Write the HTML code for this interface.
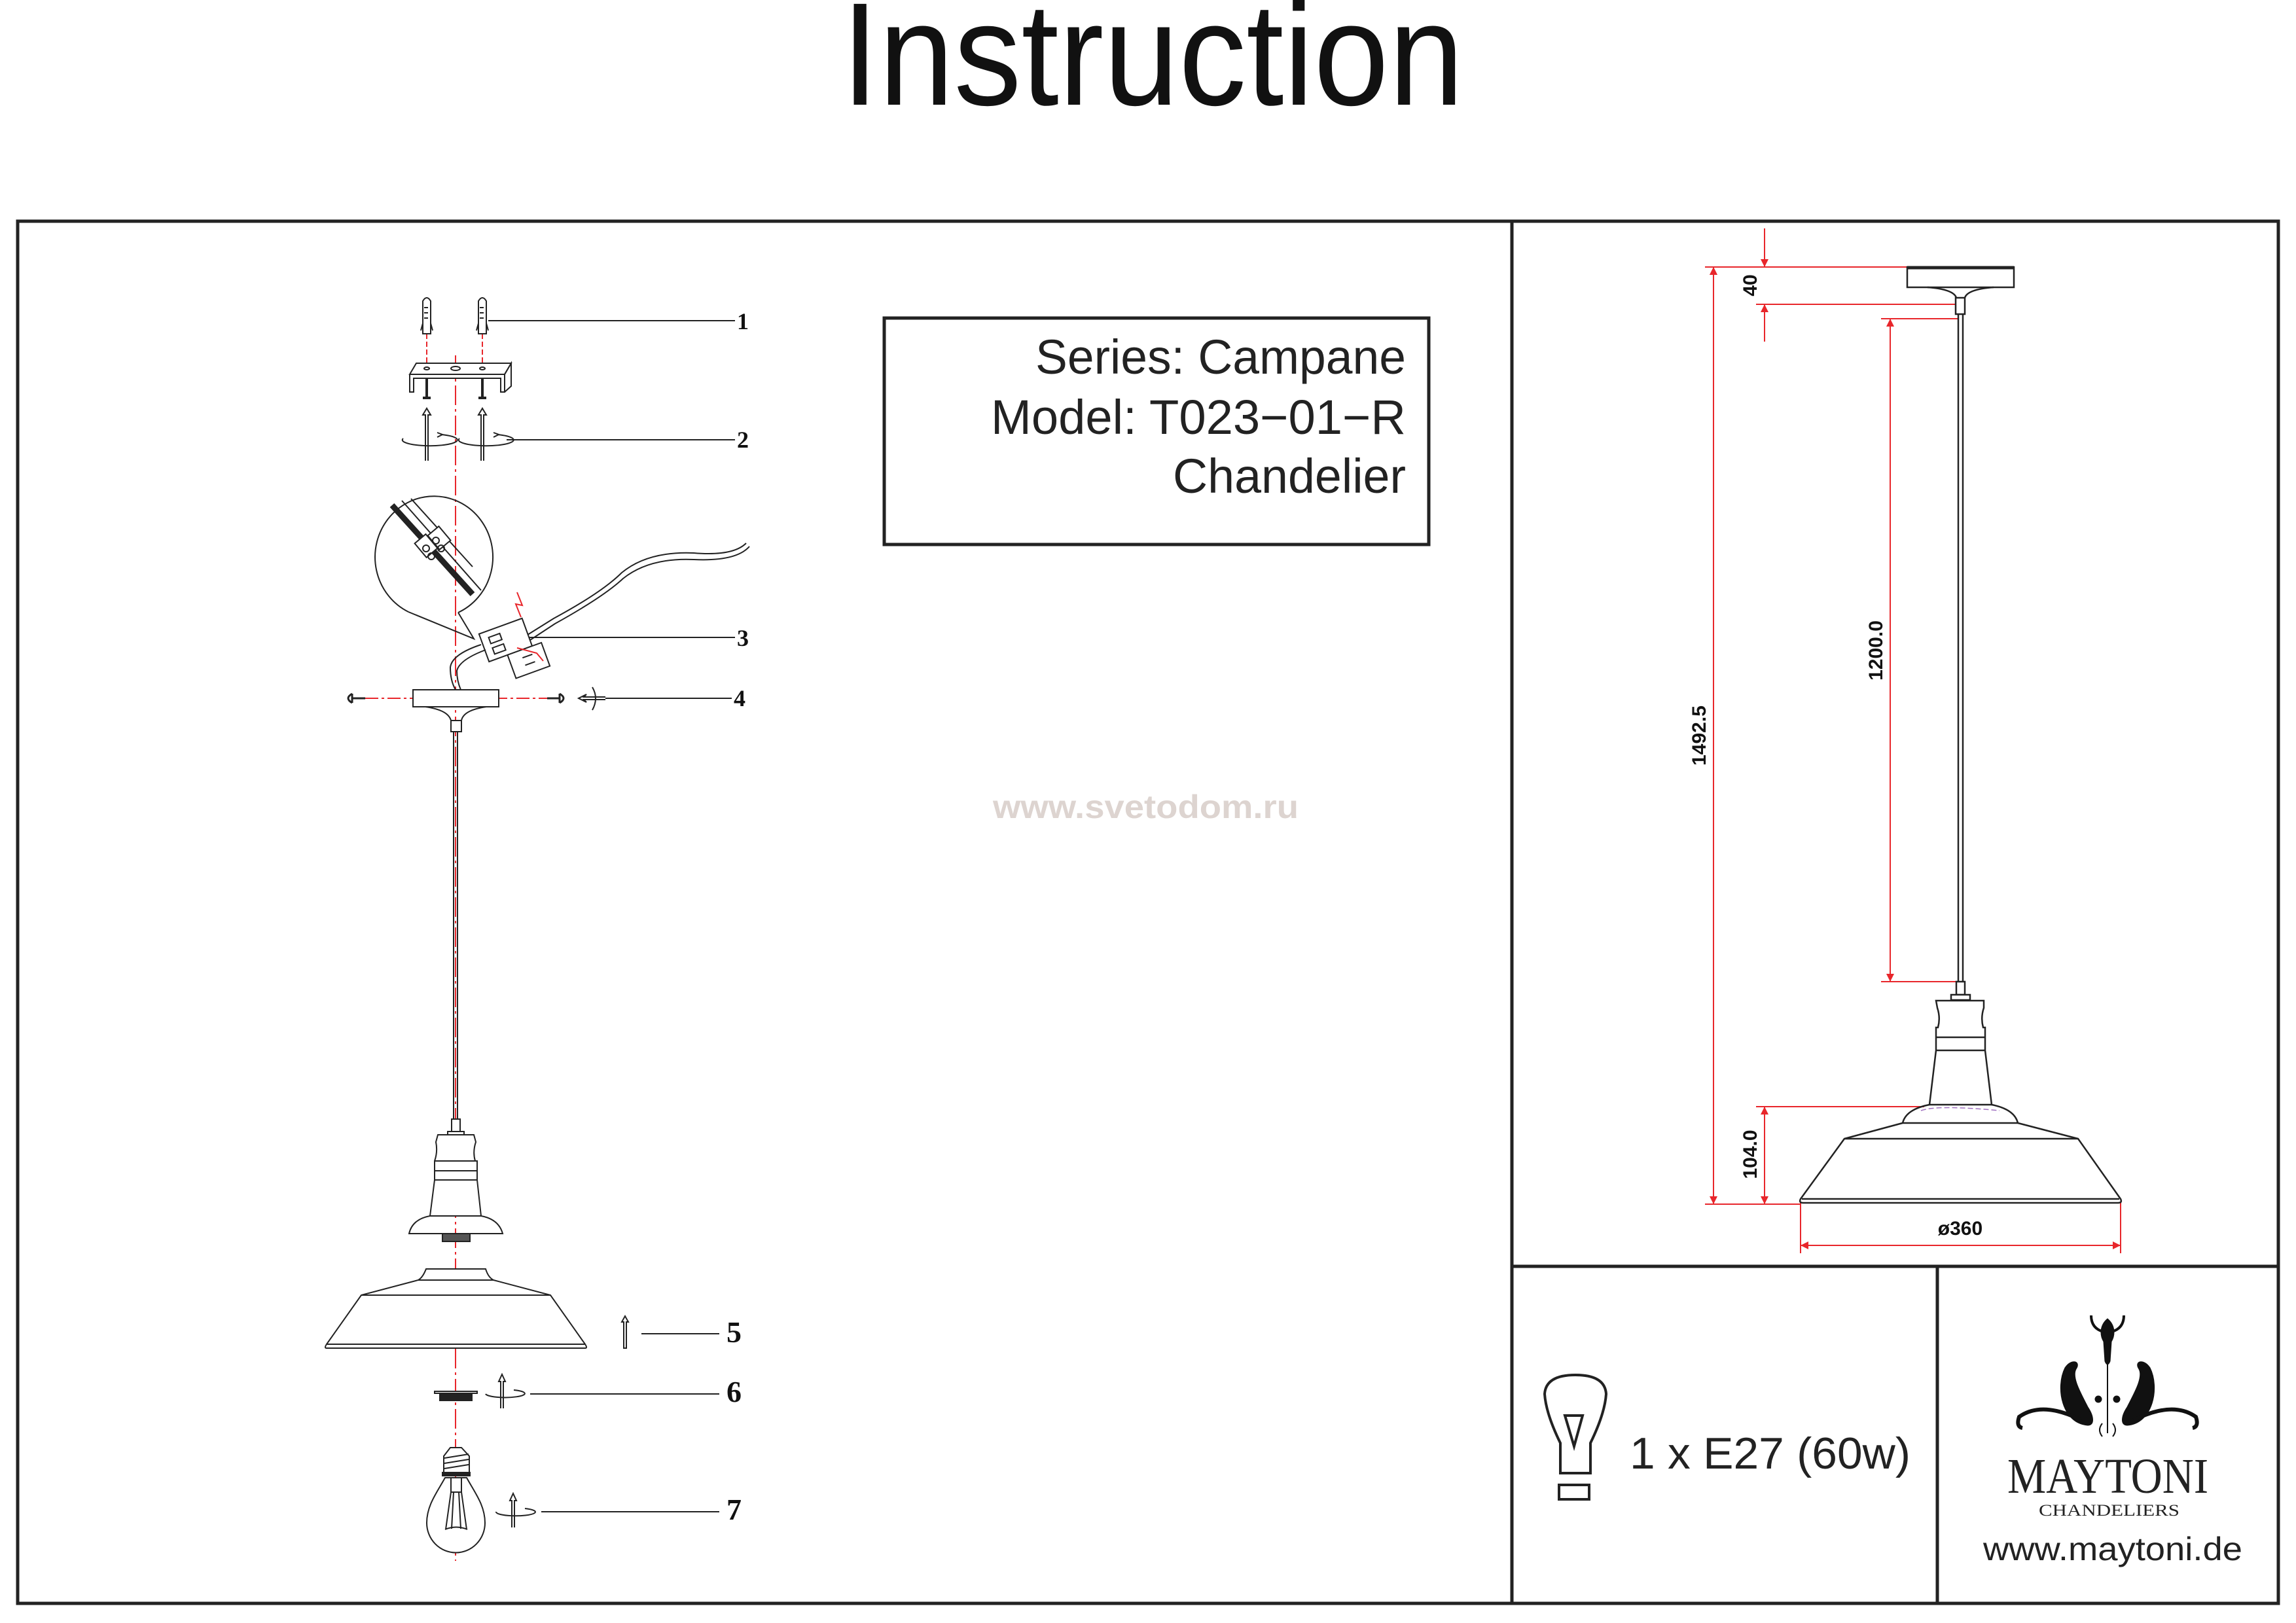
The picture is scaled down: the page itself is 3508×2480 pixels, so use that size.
<!DOCTYPE html>
<html><head><meta charset="utf-8"><style>
html,body{margin:0;padding:0;background:#fff;}
svg{display:block;}
</style></head><body>
<svg width="3508" height="2480" viewBox="0 0 3508 2480" xmlns="http://www.w3.org/2000/svg">
<defs>
<marker id="ra" viewBox="0 0 10 10" refX="10" refY="5" markerWidth="12" markerHeight="30" markerUnits="userSpaceOnUse" orient="auto"><path d="M0,0 L10,5 L0,10 Z" fill="#e8262b"/></marker>
</defs>
<rect width="3508" height="2480" fill="#fff"/>
<!-- Title -->
<text x="1761" y="160" font-family="Liberation Sans, sans-serif" font-size="224" textLength="951" lengthAdjust="spacingAndGlyphs" text-anchor="middle" fill="#111">Instruction</text>

<!-- Frame -->
<g fill="none" stroke="#222" stroke-width="5">
<rect x="27" y="338" width="3454" height="2112"/>
<line x1="2310" y1="338" x2="2310" y2="2450"/>
<line x1="2310" y1="1935" x2="3481" y2="1935"/>
<line x1="2960" y1="1935" x2="2960" y2="2450"/>
</g>

<!-- Series box -->
<rect x="1351" y="486" width="832" height="346" fill="none" stroke="#222" stroke-width="5"/>
<g font-family="Liberation Sans, sans-serif" font-size="74" fill="#222" text-anchor="end">
<text x="2148" y="571" textLength="566" lengthAdjust="spacingAndGlyphs">Series: Campane</text>
<text x="2148" y="663" textLength="634" lengthAdjust="spacingAndGlyphs">Model: T023−01−R</text>
<text x="2148" y="753" textLength="356" lengthAdjust="spacingAndGlyphs">Chandelier</text>
</g>

<!-- watermark -->
<text x="1517" y="1250" font-family="Liberation Sans, sans-serif" font-weight="bold" font-size="50" fill="#ddd4d0" textLength="467" lengthAdjust="spacingAndGlyphs">www.svetodom.ru</text>

<!-- ===== Left assembly drawing ===== -->
<g stroke="#e8262b" stroke-width="2" fill="none">
<line x1="696" y1="543" x2="696" y2="2385" stroke-dasharray="30,6,4,6"/>
<line x1="652" y1="510" x2="652" y2="560" stroke-dasharray="8,4"/>
<line x1="737" y1="510" x2="737" y2="560" stroke-dasharray="8,4"/>
<line x1="558" y1="1067" x2="640" y2="1067" stroke-dasharray="20,5,4,5"/>
<line x1="755" y1="1067" x2="836" y2="1067" stroke-dasharray="20,5,4,5"/>
</g>
<g stroke="#222" stroke-width="2" fill="none">
<!-- anchors -->
<path d="M646,510 L646,460 Q652,450 658,460 L658,510 Z" fill="#fff"/>
<path d="M643,505 L646,494 M661,505 L658,494"/>
<path d="M648,470 h6 M648,478 h6 M648,486 h6"/>
<path d="M731,510 L731,460 Q737,450 743,460 L743,510 Z" fill="#fff"/>
<path d="M728,505 L731,494 M746,505 L743,494"/>
<path d="M733,470 h6 M733,478 h6 M733,486 h6"/>
<!-- bracket -->
<path d="M626,572 L636,555 L781,555 L771,572 Z" fill="#fff"/>
<path d="M626,572 L626,599 L632,599 L632,578 L765,578 L765,599 L771,599 L771,572"/>
<path d="M771,572 L781,555 L781,590 L771,599"/>
<ellipse cx="652" cy="563" rx="4" ry="2"/><ellipse cx="737" cy="563" rx="4" ry="2"/><ellipse cx="696" cy="563" rx="7" ry="3"/>
<!-- screws -->
<path d="M652,577 L652,606 M646,608 L658,608" stroke-width="4"/>
<path d="M737,577 L737,606 M731,608 L743,608" stroke-width="4"/>
<!-- arrows 2 -->
<path d="M650,704 L650,634 L646,634 L652,624 L658,634 L654,634 L654,704"/>
<path d="M735,704 L735,634 L731,634 L737,624 L743,634 L739,634 L739,704"/>
<path d="M674,664 A42,9 0 1 1 616,670"/>
<path d="M760,664 A42,9 0 1 1 702,670"/>
<path d="M668,661 l8,3 l-8,4 M754,661 l8,3 l-8,4"/>
<!-- label lines -->
<line x1="746" y1="490" x2="1123" y2="490"/>
<line x1="774" y1="672" x2="1123" y2="672"/>
<line x1="783" y1="974" x2="1123" y2="974"/>
<line x1="925" y1="1067" x2="1118" y2="1067"/>
<!-- detail circle -->
<path d="M700,936 A90,93 0 1 0 624,935"/>
<path d="M624,935 L724,976 L700,936"/>
<path d="M599,772 L722,908" stroke-width="9"/>
<path d="M614,765 L735,902"/>
<path d="M628,762 L722,866"/>
<rect x="640" y="820" width="22" height="28" transform="rotate(-40 651 834)" fill="#fff"/>
<rect x="660" y="808" width="22" height="28" transform="rotate(-40 671 822)" fill="#fff"/>
<circle cx="651" cy="838" r="5"/><circle cx="666" cy="826" r="5"/><circle cx="659" cy="850" r="5"/><circle cx="674" cy="838" r="5"/>
<!-- terminal -->
<g transform="rotate(-20 775 985)">
<rect x="740" y="955" width="70" height="45" fill="#fff"/>
<rect x="752" y="965" width="18" height="10"/><rect x="752" y="982" width="18" height="10"/>
<rect x="770" y="1000" width="55" height="38" fill="#fff"/>
<path d="M790,1012 h16 M790,1024 h16"/>
</g>
<path d="M806,970 L846,945 Q920,905 950,875 Q990,842 1060,845 Q1120,850 1140,830" />
<path d="M810,978 L848,953 Q922,912 952,884 Q992,852 1060,855 Q1125,858 1145,835" />
<path d="M735,985 Q690,1000 688,1020 Q688,1040 696,1054"/>
<path d="M742,993 Q702,1008 698,1025 Q698,1040 704,1054"/>
<path d="M790,905 l8,20 l-10,-2 l8,20" stroke="#e8262b"/>
<path d="M790,990 l30,8 l10,12" stroke="#e8262b"/>
<!-- canopy -->
<rect x="631" y="1054" width="131" height="26" fill="#fff"/>
<path d="M650,1080 Q685,1085 689,1101 M743,1080 Q708,1085 705,1101"/>
<rect x="689" y="1101" width="16" height="17" fill="#fff"/>
<!-- screws 4 -->
<path d="M538,1060 v14 M538,1067 h20 M538,1060 Q526,1067 538,1074" stroke-width="3"/>
<path d="M855,1060 v14 M855,1067 h-19 M855,1060 Q867,1067 855,1074" stroke-width="3"/>
<path d="M925,1065 L892,1065 L896,1061 L884,1067 L896,1073 L892,1069 L925,1069"/>
<path d="M905,1050 Q915,1067 905,1085"/>
<!-- cord -->
<line x1="693" y1="1118" x2="693" y2="1710"/><line x1="699" y1="1118" x2="699" y2="1710"/>
<!-- holder -->
<rect x="690" y="1710" width="13" height="19" fill="#fff"/>
<rect x="684" y="1729" width="25" height="5" fill="#fff"/>
<path d="M669,1734 L724,1734 L727,1745 Q722,1760 726,1774 L729,1774 L729,1803 L735,1858 L657,1858 L664,1803 L664,1774 Q669,1760 666,1745 Z" fill="#fff"/>
<path d="M664,1774 H729 M664,1789 H729 M664,1803 H729"/>
<path d="M657,1858 Q630,1863 625,1885 L768,1885 Q762,1863 735,1858"/>
<rect x="676" y="1885" width="42" height="12" fill="#555"/>
<!-- shade -->
<path d="M651,1939 L742,1939 Q746,1952 754,1956 L841,1979 L894,2054 Q898,2060 894,2060 L499,2060 Q495,2060 499,2054 L552,1979 L639,1956 Q646,1952 651,1939 Z" fill="#fff"/>
<path d="M639,1956 H754 M552,1979 H841 M499,2054 H894"/>
<!-- 5 -->
<path d="M953,2060 L953,2020 L950,2020 L955,2011 L960,2020 L957,2020 L957,2060 Z"/>
<line x1="980" y1="2038" x2="1099" y2="2038"/>
<!-- 6 -->
<rect x="664" y="2126" width="65" height="3" fill="#fff"/>
<rect x="672" y="2129" width="49" height="11" fill="#222"/>
<path d="M765,2152 L765,2111 L762,2111 L767,2100 L772,2111 L769,2111 L769,2152"/>
<path d="M785,2124 A30,6 0 1 1 742,2130"/>
<line x1="810" y1="2130" x2="1099" y2="2130"/>
<!-- 7 bulb -->
<path d="M688,2212 L705,2212 L717,2225 L717,2250 L678,2250 L678,2225 Z" fill="#fff"/>
<path d="M679,2228 L716,2222 M679,2236 L716,2230 M679,2244 L716,2238"/>
<rect x="676" y="2250" width="42" height="5" fill="#222"/>
<path d="M680,2258 C668,2280 652,2300 652,2327 A44,45 0 0 0 741,2327 C741,2300 725,2280 713,2258 Z" fill="#fff"/>
<path d="M689,2258 L689,2280 L705,2280 L705,2258 M689,2280 L681,2337 M705,2280 L713,2337 M693,2280 L690,2336 M701,2280 L704,2336 M680,2337 Q697,2330 714,2337"/>
<path d="M782,2334 L782,2293 L779,2293 L784,2282 L789,2293 L786,2293 L786,2334"/>
<path d="M802,2305 A30,6 0 1 1 758,2310"/>
<line x1="827" y1="2310" x2="1099" y2="2310"/>
</g>
<g font-family="Liberation Serif, serif" font-weight="bold" fill="#111">
<text x="1126" y="503" font-size="36">1</text>
<text x="1126" y="684" font-size="36">2</text>
<text x="1126" y="987" font-size="36">3</text>
<text x="1121" y="1079" font-size="36">4</text>
<text x="1110" y="2051" font-size="46">5</text>
<text x="1110" y="2142" font-size="46">6</text>
<text x="1110" y="2322" font-size="46">7</text>
</g>

<!-- ===== Right dimension drawing ===== -->
<g stroke="#e8262b" stroke-width="2" fill="none">
<line x1="2605" y1="408" x2="2914" y2="408"/>
<line x1="2605" y1="1840" x2="2751" y2="1840"/>
<line x1="2683" y1="465" x2="2990" y2="465"/>
<line x1="2874" y1="487" x2="2992" y2="487"/>
<line x1="2874" y1="1500" x2="2990" y2="1500"/>
<line x1="2683" y1="1691" x2="2940" y2="1691"/>
<line x1="2751" y1="1836" x2="2751" y2="1915"/>
<line x1="3240" y1="1836" x2="3240" y2="1915"/>
<line x1="2618" y1="440" x2="2618" y2="408" marker-end="url(#ra)"/>
<line x1="2618" y1="430" x2="2618" y2="1840" marker-end="url(#ra)"/>
<line x1="2618" y1="1800" x2="2618" y2="408" marker-end="url(#ra)"/>
<line x1="2696" y1="349" x2="2696" y2="408" marker-end="url(#ra)"/>
<line x1="2696" y1="522" x2="2696" y2="465" marker-end="url(#ra)"/>
<line x1="2888" y1="1490" x2="2888" y2="487" marker-end="url(#ra)"/>
<line x1="2888" y1="500" x2="2888" y2="1500" marker-end="url(#ra)"/>
<line x1="2696" y1="1830" x2="2696" y2="1691" marker-end="url(#ra)"/>
<line x1="2696" y1="1700" x2="2696" y2="1840" marker-end="url(#ra)"/>
<line x1="3230" y1="1903" x2="2751" y2="1903" marker-end="url(#ra)"/>
<line x1="2760" y1="1903" x2="3240" y2="1903" marker-end="url(#ra)"/>
</g>
<g stroke="#222" stroke-width="2.5" fill="none">
<rect x="2914" y="408" width="163" height="31" fill="#fff"/>
<line x1="2914" y1="409" x2="3077" y2="409" stroke-width="5"/>
<path d="M2945,439 Q2985,442 2989,455 M3046,439 Q3006,442 3002,455"/>
<rect x="2988" y="455" width="14" height="25" fill="#fff"/>
<line x1="2992" y1="480" x2="2992" y2="1500"/><line x1="2999" y1="480" x2="2999" y2="1500"/>
<rect x="2989" y="1500" width="13" height="20" fill="#fff"/>
<rect x="2981" y="1520" width="29" height="8" fill="#fff"/>
<path d="M2958,1529 L3031,1529 L3031,1540 Q3026,1555 3030,1570 L3033,1570 L3033,1605 L3043,1688 L2948,1688 L2958,1605 L2958,1570 L2961,1570 Q2965,1555 2960,1540 Z" fill="#fff"/>
<path d="M2958,1585 H3033 M2958,1605 H3033"/>
<path d="M2948,1688 Q2912,1695 2907,1716 L3083,1716 Q3078,1695 3043,1688"/>
<path d="M2907,1716 L2818,1740 L2751,1832 Q2748,1838 2755,1838 L3236,1838 Q3243,1838 3240,1832 L3175,1740 L3083,1716"/>
<path d="M2818,1740 H3175 M2753,1832 H3238"/>
</g>
<path d="M2935,1697 Q2960,1688 3055,1697" stroke="#a070c0" stroke-width="1.5" fill="none" stroke-dasharray="8,4"/>
<g font-family="Liberation Sans, sans-serif" font-weight="bold" font-size="30" fill="#111">
<text transform="translate(2606,1124) rotate(-90)" text-anchor="middle">1492.5</text>
<text transform="translate(2876,994) rotate(-90)" text-anchor="middle">1200.0</text>
<text transform="translate(2684,436) rotate(-90)" text-anchor="middle">40</text>
<text transform="translate(2684,1764) rotate(-90)" text-anchor="middle">104.0</text>
<text x="2995" y="1887" text-anchor="middle">ø360</text>
</g>

<!-- ===== Bottom panels ===== -->
<g stroke="#222" stroke-width="4" fill="none">
<path d="M2384,2251 L2384,2205 Q2362,2160 2360,2130 Q2362,2101 2407,2101 Q2452,2101 2454,2130 Q2452,2160 2430,2205 L2430,2251 Z"/>
<path d="M2391,2163 L2418,2163 L2405,2210 Z"/>
<rect x="2382" y="2269" width="46" height="22"/>
</g>
<text x="2490" y="2244" font-family="Liberation Sans, sans-serif" font-size="68" fill="#222" textLength="429" lengthAdjust="spacingAndGlyphs">1 x E27 (60w)</text>

<!-- logo ornament -->
<g fill="#111" stroke="#111">
<line x1="3220" y1="2060" x2="3220" y2="2190" stroke-width="2"/>
<path d="M3220,2015 C3232,2025 3232,2040 3226,2050 L3224,2080 Q3220,2090 3216,2080 L3214,2050 C3208,2040 3208,2025 3220,2015 Z"/>
<path d="M3214,2035 Q3195,2030 3195,2010 M3226,2035 Q3245,2030 3245,2010" fill="none" stroke-width="4"/>
<path d="M3190,2178 C3150,2175 3140,2120 3155,2090 C3165,2075 3180,2080 3172,2092 C3165,2105 3180,2130 3190,2150 C3200,2165 3200,2178 3190,2178 Z"/>
<path d="M3250,2178 C3290,2175 3300,2120 3285,2090 C3275,2075 3260,2080 3268,2092 C3275,2105 3260,2130 3250,2150 C3240,2165 3240,2178 3250,2178 Z"/>
<path d="M3180,2170 Q3120,2140 3085,2165 Q3080,2180 3090,2182" fill="none" stroke-width="6"/>
<path d="M3260,2170 Q3320,2140 3355,2165 Q3360,2180 3350,2182" fill="none" stroke-width="6"/>
<circle cx="3206" cy="2138" r="5"/><circle cx="3234" cy="2138" r="5"/>
<path d="M3212,2175 q-8,10 0,20 M3228,2175 q8,10 0,20" fill="none" stroke-width="2"/>
</g>
<text x="3067" y="2281" font-family="Liberation Serif, serif" font-size="76" fill="#222" textLength="307" lengthAdjust="spacingAndGlyphs">MAYTONI</text>
<text x="3115" y="2316" font-family="Liberation Serif, serif" font-size="25" fill="#222" textLength="215" lengthAdjust="spacingAndGlyphs">CHANDELIERS</text>
<text x="3030" y="2384" font-family="Liberation Sans, sans-serif" font-size="50" fill="#222" textLength="396" lengthAdjust="spacingAndGlyphs">www.maytoni.de</text>
</svg>
</body></html>
